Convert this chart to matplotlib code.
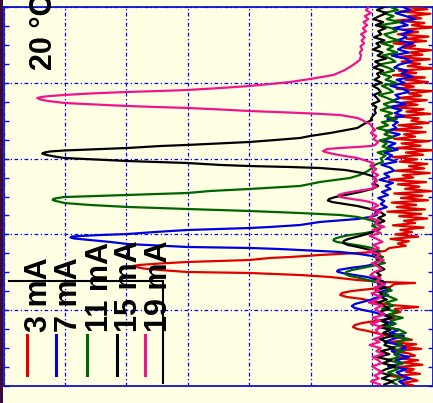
import numpy as np
import matplotlib
matplotlib.use("Agg")
import matplotlib.pyplot as plt
from matplotlib.lines import Line2D
from matplotlib.patches import Rectangle
from matplotlib.ticker import MultipleLocator

# ---------------- data (wavelength w in grid units 0..5, intensity I in grid units 0..7) ----------
LABELS = ["3 mA", "7 mA", "11 mA", "15 mA", "19 mA"]
COLORS = ["#E00000", "#0000E0", "#006400", "#000000", "#F0148C"]
TEMP_LABEL = "20 °C"

# 19 mA
PINK_TOP = [1.05, 1.10, 1.02, 1.12, 1.06, 1.14, 1.08, 1.15, 1.10, 1.18, 1.12, 1.17, 1.13, 1.19, 1.16, 1.20, 1.18]
PINK_W = [4.301, 4.235, 4.169, 4.103, 4.050, 4.011, 3.984, 3.958, 3.931, 3.905,
          3.892, 3.879, 3.865, 3.852, 3.839, 3.826, 3.813, 3.800, 3.780, 3.760,
          3.734, 3.720, 3.707, 3.694, 3.681, 3.668, 3.648, 3.628, 3.615, 3.602,
          3.588, 3.575, 3.549, 3.536, 3.509, 3.483, 3.457, 3.417,
          3.377, 3.338, 3.298, 3.259, 3.219, 3.180,
          3.166, 3.153, 3.140, 3.127, 3.114, 3.100, 3.087, 3.061, 3.034, 3.008, 2.968, 2.942,
          2.902, 2.863, 2.823, 2.784, 2.744, 2.705, 2.665, 2.625,
          2.599, 2.573, 2.546, 2.520, 2.493, 2.467, 2.441, 2.414]
PINK_I = [1.20, 1.31, 1.44, 1.63, 2.01, 2.33, 2.66, 3.00, 3.47, 4.01,
          4.45, 4.98, 5.42, 5.75, 6.01, 6.24, 6.38, 6.45, 6.40, 6.27,
          6.01, 5.67, 5.34, 4.98, 4.53, 4.01, 3.47, 3.00, 2.58, 2.17,
          1.81, 1.52, 1.33, 1.24, 1.16, 1.11, 1.03, 1.00,
          0.95, 1.02, 0.93, 0.98, 0.90, 0.95,
          1.03, 1.24, 1.52, 1.73, 1.76, 1.80, 1.76, 1.63, 1.44, 1.24, 1.08, 0.98,
          1.03, 0.93, 1.00, 0.90, 0.98, 0.92, 1.00, 0.93,
          1.03, 1.24, 1.44, 1.55, 1.52, 1.33, 1.11, 0.98]
PINK_BOTTOM = [0.90, 1.02, 0.85, 0.97, 1.05, 0.88, 0.95, 0.80, 0.99, 0.86,
               1.04, 0.92, 0.83, 0.98, 0.89, 1.06, 0.87, 0.94, 0.81, 1.00,
               0.91, 0.84, 0.97, 1.03, 0.86, 0.93, 0.79, 0.96, 0.88, 1.01,
               0.85, 0.92, 1.05, 0.83, 0.95, 0.89, 0.80, 0.99, 0.87, 1.02,
               0.84, 0.94, 0.90, 0.82, 0.97, 0.88, 1.04, 0.86, 0.93, 0.81,
               0.99, 0.90, 0.85, 1.00, 0.92, 0.83, 0.96, 0.89, 1.02, 0.87]

# 15 mA
BLACK_TOP = [0.80, 0.92, 0.76, 0.88, 0.98, 0.82, 0.94, 0.78, 0.90, 0.85,
             0.97, 0.80, 0.93, 0.87, 0.99, 0.83, 0.91, 0.77, 0.95, 0.86,
             0.98, 0.82, 0.92, 0.88, 0.96, 0.84, 0.99, 0.90, 0.86, 0.97,
             0.92, 0.88, 1.00, 0.93, 0.96, 0.94, 0.99, 1.02]
BLACK_W = [3.509, 3.483, 3.443, 3.404, 3.338, 3.298, 3.272, 3.245, 3.219, 3.180,
           3.166, 3.140, 3.120, 3.107, 3.094, 3.081, 3.067, 3.048, 3.028, 3.008,
           2.988, 2.968, 2.942, 2.916, 2.902, 2.889, 2.876, 2.850, 2.810, 2.771,
           2.718, 2.678, 2.639,
           2.599, 2.559, 2.520, 2.493, 2.467, 2.447, 2.427, 2.401, 2.375, 2.335,
           2.296, 2.256, 2.216, 2.177, 2.137, 2.098, 2.058,
           2.018, 1.979, 1.939, 1.913, 1.887, 1.860, 1.834, 1.794, 1.755]
BLACK_I = [1.00, 1.07, 1.16, 1.24, 1.68, 2.01, 2.17, 2.58, 3.00, 4.01,
           4.45, 4.98, 5.59, 6.01, 6.24, 6.33, 6.37, 6.30, 6.17, 6.01,
           5.50, 4.98, 4.01, 3.47, 3.00, 2.33, 1.85, 1.44, 1.16, 1.00,
           0.93, 0.98, 0.90,
           1.00, 1.20, 1.44, 1.60, 1.70, 1.72, 1.65, 1.44, 1.24, 1.03,
           0.87, 0.79, 0.90, 0.80, 0.92, 0.84, 0.93,
           1.03, 1.20, 1.39, 1.46, 1.47, 1.39, 1.23, 1.03, 0.90]
BLACK_BOTTOM = [0.95, 0.85, 0.98, 0.88, 0.80, 0.93, 0.86, 0.97, 0.82, 0.90,
                0.78, 0.94, 0.84, 0.88, 0.76, 0.91, 0.81, 0.72, 0.87, 0.79,
                0.68, 0.85, 0.74, 0.90, 0.70, 0.82, 0.66, 0.88, 0.75, 0.80,
                0.64, 0.86, 0.72, 0.92, 0.69, 0.83, 0.62, 0.78, 0.88, 0.70,
                0.84, 0.66, 0.80]

# 11 mA
GREEN_TOP = [0.70, 0.58, 0.82, 0.65, 0.76, 0.55, 0.88, 0.68, 0.60, 0.80,
             0.72, 0.57, 0.85, 0.66, 0.75, 0.59, 0.83, 0.70, 0.62, 0.90,
             0.74, 0.64, 0.86, 0.69, 0.78, 0.61, 0.84, 0.73, 0.66, 0.89,
             0.76, 0.63, 0.81, 0.71, 0.86, 0.67, 0.79, 0.60, 0.84, 0.74,
             0.92, 0.70, 0.80, 0.65, 0.88, 0.76, 0.83, 0.69, 0.91, 0.78,
             0.86, 0.82, 0.95]
GREEN_W = [2.876, 2.836, 2.784, 2.744, 2.691, 2.639, 2.599, 2.573, 2.546, 2.520,
           2.507, 2.493, 2.480, 2.467, 2.454, 2.441, 2.427, 2.414, 2.388, 2.362,
           2.335, 2.309, 2.282, 2.256, 2.230, 2.190, 2.150, 2.111, 2.071,
           2.045, 2.018, 1.992, 1.966, 1.939, 1.920, 1.900, 1.873, 1.847, 1.821,
           1.781, 1.741, 1.702, 1.662, 1.623, 1.583,
           1.557, 1.530, 1.504, 1.478, 1.451, 1.425, 1.385, 1.346]
GREEN_I = [1.00, 1.07, 1.20, 1.36, 1.85, 2.17, 3.00, 3.63, 4.01, 4.98,
           5.42, 6.01, 6.12, 6.19, 6.20, 6.15, 6.07, 6.01, 5.59, 4.98,
           4.01, 3.00, 2.17, 1.52, 1.24, 1.03, 0.90, 1.00, 0.87,
           0.95, 1.11, 1.36, 1.52, 1.62, 1.63, 1.57, 1.36, 1.16, 1.00,
           0.87, 0.97, 0.82, 0.93, 0.79, 1.00,
           1.16, 1.33, 1.42, 1.44, 1.36, 1.20, 1.00, 0.84]
GREEN_BOTTOM = [0.80, 0.68, 0.86, 0.72, 0.60, 0.78, 0.65, 0.84, 0.58, 0.74,
                0.50, 0.70, 0.62, 0.80, 0.55, 0.45, 0.68, 0.40, 0.60, 0.52,
                0.72, 0.48, 0.64, 0.56, 0.76, 0.50, 0.66, 0.58, 0.74, 0.62,
                0.54, 0.70, 0.60]

# 7 mA
BLUE_TOP = [0.50, 0.38, 0.62, 0.45, 0.30, 0.55, 0.42, 0.66, 0.35, 0.52,
            0.44, 0.60, 0.33, 0.48, 0.58, 0.40, 0.68, 0.46, 0.36, 0.56,
            0.64, 0.43, 0.52, 0.34, 0.60, 0.47, 0.70, 0.50, 0.40, 0.62,
            0.55, 0.68, 0.45, 0.72, 0.52, 0.63, 0.48, 0.75, 0.58, 0.66,
            0.60, 0.78, 0.55, 0.70, 0.82, 0.62, 0.74, 0.58, 0.80, 0.67,
            0.76, 0.60, 0.85, 0.70, 0.64, 0.80, 0.72, 0.88, 0.66, 0.78,
            0.70, 0.84, 0.74, 0.90, 0.80, 0.86, 0.76, 0.92, 0.95]
BLUE_W = [2.256, 2.230, 2.203, 2.164, 2.124, 2.098, 2.084, 2.058, 2.032, 2.005,
          1.992, 1.979, 1.972, 1.959, 1.946, 1.926, 1.900, 1.873, 1.834, 1.821,
          1.807, 1.794, 1.768, 1.741, 1.715, 1.676, 1.636, 1.596,
          1.583, 1.557, 1.530, 1.511, 1.491, 1.464, 1.438, 1.398, 1.359, 1.319,
          1.280, 1.240, 1.201, 1.161,
          1.135, 1.108, 1.082, 1.055, 1.029, 1.003, 0.976, 0.937]
BLUE_I = [0.92, 1.03, 1.24, 1.85, 2.17, 2.66, 3.00, 4.01, 4.53, 4.98,
          5.42, 5.75, 5.88, 5.91, 5.85, 5.59, 5.26, 4.98, 4.01, 3.00,
          2.50, 2.17, 1.52, 1.20, 1.00, 0.84, 0.93, 1.03,
          1.11, 1.36, 1.55, 1.57, 1.49, 1.28, 1.08, 0.90, 0.79, 0.90,
          0.71, 0.87, 0.74, 0.95,
          1.03, 1.16, 1.28, 1.33, 1.28, 1.15, 0.98, 0.82]
BLUE_BOTTOM = [0.70, 0.85, 0.62, 0.78, 0.55, 0.72, 0.48, 0.66, 0.80, 0.52,
               0.45, 0.68, 0.58, 0.40, 0.62, 0.50, 0.74, 0.44, 0.60, 0.52,
               0.38, 0.56, 0.48]

# 3 mA
RED_TOP = [0.45, 0.10, 0.55, 0.05, 0.40, 0.20, 0.62, 0.15, 0.35, 0.02,
           0.50, 0.25, 0.58, 0.08, 0.44, 0.12, 0.65, 0.30, 0.48, 0.04,
           0.38, 0.18, 0.60, 0.06, 0.52, 0.22, 0.42, 0.00, 0.56, 0.28,
           0.66, 0.14, 0.46, 0.09, 0.54, 0.32, 0.60, 0.03, 0.40, 0.20,
           0.58, 0.11, 0.50, 0.26, 0.68, 0.16, 0.44, 0.05, 0.62, 0.24,
           0.36, 0.08, 0.57, 0.19, 0.70, 0.13, 0.48, 0.30, 0.64, 0.07,
           0.52, 0.21, 0.60, 0.02, 0.45, 0.17, 0.66, 0.27, 0.55, 0.10,
           0.40, 0.15, 0.62, 0.06, 0.50, 0.33, 0.72, 0.12, 0.58, 0.23,
           0.46, 0.04, 0.64, 0.18, 0.53, 0.09, 0.68, 0.28, 0.60, 0.14,
           0.75, 0.20, 0.56, 0.10, 0.48, 0.30, 0.66, 0.16, 0.54, 0.35,
           0.62, 0.25, 0.70, 0.40, 0.58, 0.45, 0.72]
RED_W = [1.781, 1.768, 1.755, 1.728, 1.702, 1.689, 1.662, 1.636, 1.616, 1.596,
         1.583, 1.570, 1.550, 1.530, 1.504, 1.491, 1.478, 1.464, 1.438, 1.398,
         1.372, 1.359, 1.346,
         1.306, 1.280, 1.253, 1.227, 1.201, 1.174, 1.148, 1.108, 1.069, 1.042,
         1.016, 0.976, 0.937, 0.897,
         0.858, 0.831, 0.805, 0.778, 0.752, 0.726, 0.686]
RED_I = [0.79, 0.92, 1.24, 1.85, 2.33, 2.66, 3.00, 4.01, 4.45, 4.80,
         4.89, 4.84, 4.72, 4.45, 4.01, 3.00, 2.58, 2.17, 1.68, 1.24,
         0.82, 0.30, 0.63,
         0.71, 1.03, 1.33, 1.49, 1.52, 1.41, 1.16, 0.95, 0.71, 0.25,
         0.63, 0.54, 0.74, 0.63,
         0.95, 1.16, 1.28, 1.31, 1.24, 1.07, 0.87]
RED_BOTTOM = [0.60, 0.35, 0.72, 0.28, 0.55, 0.20, 0.66, 0.40, 0.30, 0.62,
              0.25, 0.50, 0.18, 0.58, 0.32, 0.45, 0.22, 0.68, 0.38, 0.26,
              0.52, 0.34]


def build(top, top_start, top_step, pw, pi, bottom, bot_start, bot_step):
    w_top = top_start - top_step * np.arange(len(top))
    w_bot = bot_start - bot_step * np.arange(len(bottom))
    w = np.concatenate([w_top, pw, w_bot])
    i = np.concatenate([top, pi, bottom])
    return w, i


traces = [
    build(RED_TOP, 5.00, 0.03, RED_W, RED_I, RED_BOTTOM, 0.64, 0.03),
    build(BLUE_TOP, 5.00, 0.04, BLUE_W, BLUE_I, BLUE_BOTTOM, 0.90, 0.04),
    build(GREEN_TOP, 5.00, 0.04, GREEN_W, GREEN_I, GREEN_BOTTOM, 1.30, 0.04),
    build(BLACK_TOP, 5.00, 0.04, BLACK_W, BLACK_I, BLACK_BOTTOM, 1.70, 0.04),
    build(PINK_TOP, 5.00, 0.04, PINK_W, PINK_I, PINK_BOTTOM, 2.38, 0.04),
]

# ---------------- figure ----------------
W_PX, H_PX = 433, 403
BG = "#FFFFE4"
SPINE = "#1010CC"
fig = plt.figure(figsize=(W_PX / 100, H_PX / 100), dpi=100, facecolor=BG)

def fx(px):
    return px / W_PX

def fy(py):
    return (H_PX - py) / H_PX

ax = fig.add_axes([fx(3.5), fy(386), (433.5 - 3.5) / W_PX, (386 - 7) / H_PX])
ax.set_facecolor(BG)
ax.set_xlim(7, 0)
ax.set_ylim(0, 5)

for (w, i), c in zip(traces, COLORS):
    ax.plot(i, w, color=c, lw=1.6, solid_joinstyle="round", zorder=3)

ax.xaxis.set_major_locator(MultipleLocator(1))
ax.yaxis.set_major_locator(MultipleLocator(1))
ax.yaxis.set_minor_locator(MultipleLocator(0.25))
ax.grid(True, which="major", color="#0000FF", linestyle=(0, (3, 2, 1, 2)), linewidth=0.9)
ax.set_axisbelow(True)
ax.tick_params(axis="y", which="both", direction="in", length=3.6, width=1.0, color=SPINE,
               left=True, right=True, labelleft=False, labelright=False)
ax.tick_params(axis="x", which="both", length=0, labelbottom=False)
for s in ax.spines.values():
    s.set_color(SPINE)
    s.set_linewidth(1.3)

# dark strip at left edge
fig.patches.append(Rectangle((0, 0), fx(3), 1, transform=fig.transFigure,
                             facecolor="#3A0A3A", edgecolor="none", zorder=0))

FONT = dict(family=["Liberation Sans", "DejaVu Sans"], weight="bold", size=22)

# temperature label
fig.text(fx(52), fy(70), TEMP_LABEL, rotation=90, rotation_mode="anchor",
         ha="left", va="baseline", color="black", **FONT)

# legend (rotated)
label_x = [47, 77, 108, 137, 167]
handle_x = [27, 56, 87, 117, 145]
for lab, c, lx, hx in zip(LABELS, COLORS, label_x, handle_x):
    fig.text(fx(lx), fy(332), lab, rotation=90, rotation_mode="anchor",
             ha="left", va="baseline", color="black", **FONT)
    fig.lines.append(Line2D([fx(hx), fx(hx)], [fy(335), fy(375)], transform=fig.transFigure,
                            color=c, lw=2.2))
fig.lines.append(Line2D([fx(9), fx(163)], [fy(281), fy(281)], transform=fig.transFigure,
                        color="black", lw=1.5))
fig.lines.append(Line2D([fx(163), fx(163)], [fy(281), fy(383)], transform=fig.transFigure,
                        color="black", lw=1.5))

fig.savefig("out.png", dpi=100, facecolor=BG)
